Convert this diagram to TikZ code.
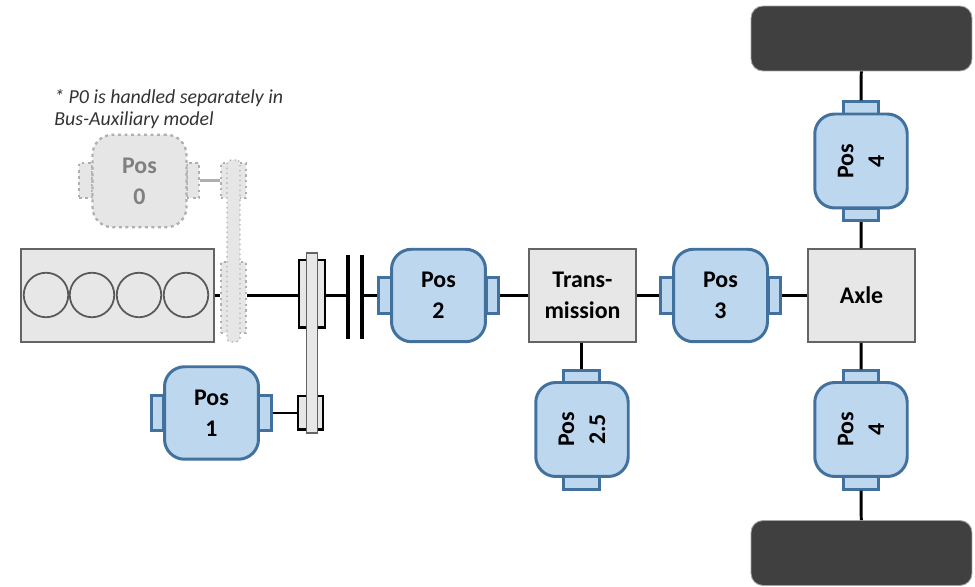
\documentclass[tikz,border=0pt]{standalone}
\usepackage{fontspec}
\setmainfont{Carlito}
\usetikzlibrary{positioning}
\definecolor{posfill}{RGB}{189, 215, 238}
\definecolor{posline}{RGB}{65, 113, 156}
\definecolor{boxfill}{RGB}{231, 231, 231}
\definecolor{boxline}{RGB}{100, 100, 100}
\definecolor{wheelfill}{RGB}{64, 64, 64}
\definecolor{ghostline}{RGB}{175, 175, 175}
\definecolor{ghostfill}{RGB}{230, 230, 230}
\tikzset{
    posbody/.style={draw=posline, fill=posfill, line width=1.7pt, rounded corners=.4cm, align=center,
        minimum width=1.88cm, minimum height=1.85cm, inner sep=0pt, font=\fontsize{13.6}{17.6}\selectfont\bfseries},
    postabh/.style={draw=posline, fill=posfill, line width=1.5pt, minimum width=.25cm, minimum height=.71cm, inner sep=0pt},
    postabv/.style={draw=posline, fill=posfill, line width=1.5pt, minimum width=.71cm, minimum height=.25cm, inner sep=0pt},
    unitbox/.style={draw=boxline, fill=boxfill, line width=.9pt, minimum width=2.14cm, minimum height=1.86cm, inner sep=0pt,
        align=center, font=\fontsize{13.6}{17.6}\selectfont\bfseries},
    cylinder/.style={draw=black!65, circle, line width=1pt, minimum size=.89cm, inner sep=0pt},
    wheel/.style={draw=boxfill!60!wheelfill, fill=wheelfill, rounded corners=.24cm, line width=.5pt, minimum width=4.42cm, minimum height=1.3cm},
    ghostbody/.style={posbody, draw=ghostline, fill=ghostfill, dotted, line width=1.3pt, text=gray},
    ghosttab/.style={postabh, draw=ghostline, fill=ghostfill, dotted, line width=1.3pt},
    ghostpulley/.style={draw=ghostline, fill=ghostfill, dotted, line width=1.3pt, minimum width=.50cm, inner sep=0pt},
    ghostbelt/.style={draw=ghostline, fill=ghostfill, dotted, line width=.8pt, rounded corners=.08cm, minimum width=.26cm, minimum height=3.64cm, inner sep=0pt},
    pulley/.style={draw=black, fill=boxfill, line width=1.7pt, inner sep=0pt},
    belt/.style={draw=boxline, fill=boxfill, line width=1pt, minimum width=.22cm, minimum height=3.6cm, inner sep=0pt},
    plate/.style={line width=1.9pt},
    shaft/.style={line width=1.7pt},
    ghostshaft/.style={line width=1.5pt, draw=ghostline},
}
\begin{document}
\begin{tikzpicture}[x=.02cm, y=-.02cm]
    \useasboundingbox (0,0) rectangle (975,587);
    % wheels
    \node[wheel] (wheeltop) at (861.5, 38.5) {};
    \node[wheel] (wheelbot) at (861.5,553.0) {};
    % engine
    \node[unitbox, minimum width=3.86cm] (engine) at (117.5,295.5) {};
    \node[cylinder] (cyl1) at ( 46,295) {};
    \node[cylinder] (cyl2) at ( 92,295) {};
    \node[cylinder] (cyl3) at (139,295) {};
    \node[cylinder] (cyl4) at (186,295) {};
    % Pos 0, dotted
    \node[ghosttab] (tab0l) at ( 85.5,180.5) {};
    \node[ghosttab] (tab0r) at (193.0,180.5) {};
    \node[ghostbody] (pos0) at (139.5,181) {Pos\\0};
    \node[ghostpulley, minimum height=.70cm] (ghostup) at (233.5,180.5) {};
    \node[ghostpulley, minimum height=1.42cm] (ghostlow) at (233.5,297.5) {};
    \node[ghostbelt] (ghostbelt) at (233.5,251) {};
    \draw[ghostshaft] (tab0r) -- (ghostup);
    % crankshaft
    \node[pulley, minimum width=.52cm, minimum height=1.36cm] (pulleyup) at (312,294) {};
    \node[pulley, minimum width=.50cm, minimum height=.68cm] (pulleylow) at (310.5,413) {};
    \node[belt] (belt) at (312,343) {};
    \draw[plate] (348,255) coordinate (plate1a) -- (348,339) coordinate (plate1b);
    \draw[plate] (362,255) coordinate (plate2a) -- (362,339) coordinate (plate2b);
    \coordinate (clutch1) at (348,295.5);
    \coordinate (clutch2) at (362,295.5);
    % Pos 1
    \node[postabh] (tab1l) at (157.5,413) {};
    \node[postabh] (tab1r) at (265.0,413) {};
    \node[posbody] (pos1) at (211.5,413) {Pos\\1};
    % Pos 2
    \node[postabh] (tab2l) at (385.0,295.5) {};
    \node[postabh] (tab2r) at (492.5,295.5) {};
    \node[posbody] (pos2) at (438.5,295.5) {Pos\\2};
    % transmission
    \node[unitbox, minimum width=2.14cm] (trans) at (582.5,295.5) {Trans-\\mission};
    % Pos 2.5
    \node[postabv] (tab25t) at (581.5,377) {};
    \node[postabv] (tab25b) at (581.5,483) {};
    \node[posbody, rotate=90] (pos25) at (582,429.5) {Pos\\2.5};
    % Pos 3
    \node[postabh] (tab3l) at (667.0,295.5) {};
    \node[postabh] (tab3r) at (774.5,295.5) {};
    \node[posbody] (pos3) at (720.5,295.5) {Pos\\3};
    % axle
    \node[unitbox] (axle) at (861.5,295.5) {Axle};
    % Pos 4, both
    \node[postabv] (tab4at) at (861,108) {};
    \node[postabv] (tab4ab) at (861,214.5) {};
    \node[posbody, rotate=90] (pos4a) at (861,161) {Pos\\4};
    \node[postabv] (tab4bt) at (861,377) {};
    \node[postabv] (tab4bb) at (861,483) {};
    \node[posbody, rotate=90] (pos4b) at (861,429.5) {Pos\\4};
    % shafts
    \draw[shaft] (engine.east) -- (engine.east -| ghostlow.west);
    \draw[shaft] (engine.east -| ghostlow.east) -- (engine.east -| pulleyup.west);
    \draw[shaft] (engine.east -| pulleyup.east) -- (clutch1);
    \draw[shaft] (clutch2) -- (tab2l);
    \draw[shaft] (tab1r) -- (pulleylow);
    \draw[shaft] (tab2r) -- (trans);
    \draw[shaft] (trans) -- (tab3l);
    \draw[shaft] (tab3r) -- (axle);
    \draw[shaft] (trans.south -| tab25t) -- (tab25t);
    \draw[shaft] (wheeltop) -- (tab4at);
    \draw[shaft] (tab4ab) -- (axle);
    \draw[shaft] (axle) -- (tab4bt);
    \draw[shaft] (tab4bb) -- (wheelbot);
    % note
    \node[anchor=north west, align=left, inner sep=0pt, text=black!80, font=\fontsize{11.3}{12.6}\selectfont\itshape] (note) at (54,89)
        {* P0 is handled separately in\\Bus-Auxiliary model};
\end{tikzpicture}
\end{document}
